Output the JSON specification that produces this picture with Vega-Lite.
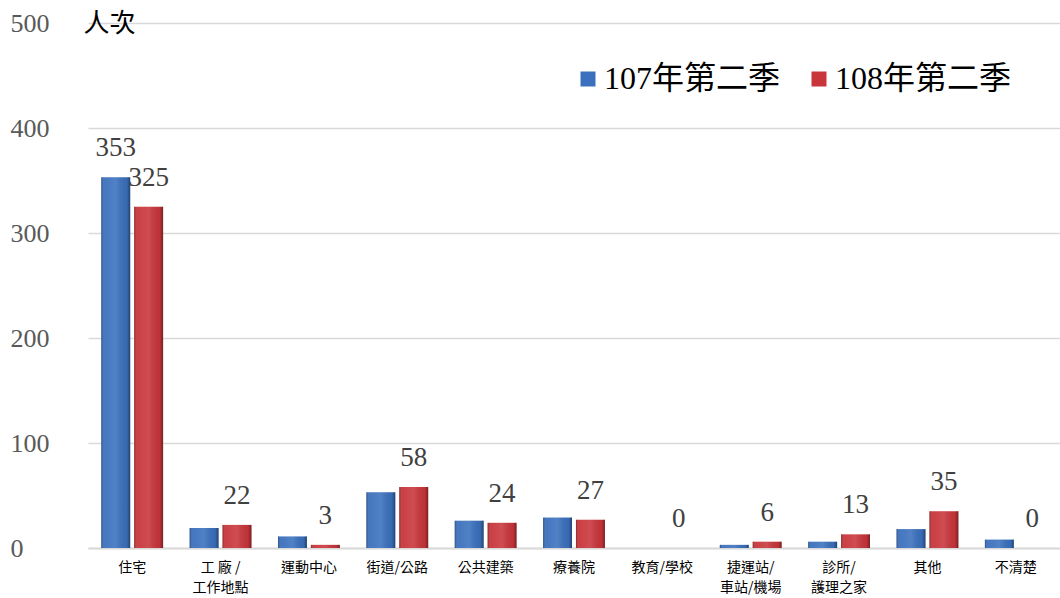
{
  "$schema": "https://vega.github.io/schema/vega-lite/v6.json",
  "width": 972,
  "height": 525,
  "autosize": {"type": "none"},
  "padding": {"left": 88, "top": 23, "right": 0, "bottom": 50},
  "background": "white",
  "config": {"view": {"stroke": null}, "font": "Liberation Serif, Noto Sans CJK TC"},
  "data": {
    "values": [
      {"地點": "住宅", "年度": "107年第二季", "人次": 353},
      {"地點": "住宅", "年度": "108年第二季", "人次": 325},
      {"地點": "工 廠 /|工作地點", "年度": "107年第二季", "人次": 19},
      {"地點": "工 廠 /|工作地點", "年度": "108年第二季", "人次": 22},
      {"地點": "運動中心", "年度": "107年第二季", "人次": 11},
      {"地點": "運動中心", "年度": "108年第二季", "人次": 3},
      {"地點": "街道/公路", "年度": "107年第二季", "人次": 53},
      {"地點": "街道/公路", "年度": "108年第二季", "人次": 58},
      {"地點": "公共建築", "年度": "107年第二季", "人次": 26},
      {"地點": "公共建築", "年度": "108年第二季", "人次": 24},
      {"地點": "療養院", "年度": "107年第二季", "人次": 29},
      {"地點": "療養院", "年度": "108年第二季", "人次": 27},
      {"地點": "教育/學校", "年度": "107年第二季", "人次": 0},
      {"地點": "教育/學校", "年度": "108年第二季", "人次": 0},
      {"地點": "捷運站/|車站/機場", "年度": "107年第二季", "人次": 3},
      {"地點": "捷運站/|車站/機場", "年度": "108年第二季", "人次": 6},
      {"地點": "診所/|護理之家", "年度": "107年第二季", "人次": 6},
      {"地點": "診所/|護理之家", "年度": "108年第二季", "人次": 13},
      {"地點": "其他", "年度": "107年第二季", "人次": 18},
      {"地點": "其他", "年度": "108年第二季", "人次": 35},
      {"地點": "不清楚", "年度": "107年第二季", "人次": 8},
      {"地點": "不清楚", "年度": "108年第二季", "人次": 0}
    ]
  },
  "encoding": {
    "x": {
      "field": "地點", "type": "nominal", "sort": null,
      "scale": {"paddingInner": 0.3, "paddingOuter": 0.15},
      "axis": {
        "title": null, "labelAngle": 0, "labelExpr": "split(datum.label, '|')",
        "labelFont": "Noto Sans CJK TC", "labelFontSize": 14, "labelColor": "#000000",
        "labelPadding": 12, "labelLineHeight": 20, "labelBaseline": "top",
        "ticks": false, "domainColor": "#d9d9d9", "domainWidth": 2
      }
    },
    "xOffset": {"field": "年度", "type": "nominal", "sort": null, "scale": {"paddingInner": 0.12}},
    "y": {
      "field": "人次", "type": "quantitative",
      "scale": {"domain": [0, 500]},
      "axis": {
        "values": [0, 100, 200, 300, 400, 500],
        "title": "人次", "titleAngle": 0, "titleX": -5, "titleY": 0,
        "titleAlign": "left", "titleBaseline": "middle",
        "titleFont": "Noto Sans CJK TC", "titleFontSize": 26, "titleFontWeight": "normal", "titleColor": "#000000",
        "labelAlign": "left", "labelPadding": 78, "labelFontSize": 26, "labelColor": "#595959",
        "labelFont": "Liberation Serif", "ticks": false, "domain": false,
        "gridColor": "#d9d9d9", "gridWidth": 1.5
      }
    }
  },
  "layer": [
    {
      "mark": {"type": "bar"},
      "encoding": {
        "color": {
          "field": "年度", "type": "nominal", "sort": null,
          "scale": {"range": ["#3a70bd", "#c8353a"]},
          "legend": {
            "title": null, "orient": "none", "legendX": 484, "legendY": 40,
            "direction": "horizontal", "symbolType": "square", "symbolSize": 225,
            "labelFontSize": 32, "labelFont": "Liberation Serif, Noto Sans CJK TC",
            "labelColor": "#000000", "labelOffset": 0, "columnPadding": 22,
            "symbolStrokeWidth": 0, "labelLimit": 400
          }
        }
      }
    },
    {
      "mark": {
        "type": "bar",
        "color": {
          "gradient": "linear", "x1": 0, "y1": 0, "x2": 1, "y2": 0,
          "stops": [
            {"offset": 0, "color": "rgba(0,0,0,0.3)"},
            {"offset": 0.12, "color": "rgba(255,255,255,0.05)"},
            {"offset": 0.5, "color": "rgba(255,255,255,0.12)"},
            {"offset": 0.88, "color": "rgba(0,0,0,0.05)"},
            {"offset": 1, "color": "rgba(0,0,0,0.4)"}
          ]
        }
      },
      "encoding": {}
    },
    {
      "transform": [{"filter": "datum['年度'] == '108年第二季' || datum['人次'] > 300"}],
      "mark": {"type": "text", "dy": -21, "baseline": "alphabetic", "fontSize": 27, "color": "#404040", "font": "Liberation Serif"},
      "encoding": {"text": {"field": "人次", "type": "quantitative"}}
    }
  ]
}
